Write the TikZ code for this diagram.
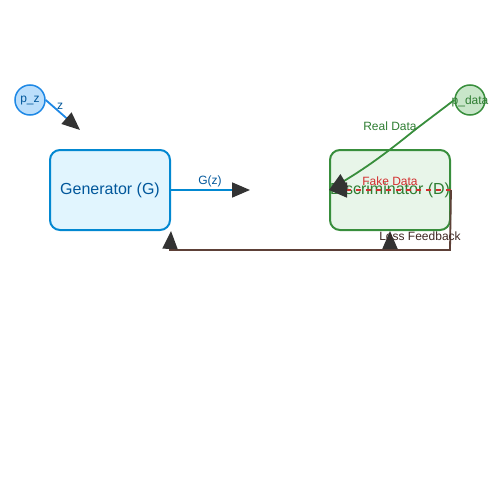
\documentclass[tikz,border=0pt]{standalone}
\usepackage{fontspec}
\setmainfont{Liberation Sans}
\usetikzlibrary{arrows.meta}
\definecolor{gblue}{HTML}{0288D1}
\definecolor{gfill}{HTML}{E1F5FE}
\definecolor{gtext}{HTML}{01579B}
\definecolor{zblue}{HTML}{1E88E5}
\definecolor{zfill}{HTML}{BBDEFB}
\definecolor{dgreen}{HTML}{388E3C}
\definecolor{dfill}{HTML}{E8F5E9}
\definecolor{dtext}{HTML}{2E7D32}
\definecolor{rfill}{HTML}{C8E6C9}
\definecolor{fakered}{HTML}{D32F2F}
\definecolor{lossbrown}{HTML}{5D4037}
\definecolor{losstext}{HTML}{3E2723}
\definecolor{tipgray}{HTML}{333333}
\newcommand{\boxtext}[1]{\makebox[0pt][c]{#1}}
\tikzset{
	bigtip/.style={-{Triangle[length=18pt,width=15pt,color=tipgray]}},
	block/.style={rounded corners=10pt, line width=2pt, minimum width=120pt, minimum height=80pt, inner sep=0pt, font=\fontsize{16}{18}\selectfont},
	source/.style={circle, line width=1.5pt, minimum size=30pt, inner sep=0pt},
	lbl/.style={font=\fontsize{12}{14}\selectfont, inner sep=1pt}
}
\begin{document}
\begin{tikzpicture}[x=1pt, y=-1pt]
			%%%%% START %%%%%
			\useasboundingbox (0, 0) rectangle (500, 500);
			
			\node[block, draw=gblue, fill=gfill, text=gtext] (gen) at (110, 190) {\boxtext{Generator (G)}};
			\node[block, draw=dgreen, fill=dfill, text=dtext] (disc) at (390, 190) {\boxtext{Discriminator (D)}};
			
			\node[source, draw=zblue, fill=zfill] (pz) at (30, 100) {};
			\node[lbl, text=gtext] (pztext) at (30, 101) {p\_z};
			\node[source, draw=dgreen, fill=rfill] (pdata) at (470, 100) {};
			\node[lbl, text=dtext] (pdatatext) at (470, 101) {p\_data};
			
			\coordinate (zend) at (80, 130);
			\coordinate (gzend) at (250, 190);
			\coordinate (bend) at (416, 129);
			\coordinate (lossright) at (450, 250);
			\coordinate (lossleft) at (170, 250);
			\coordinate (lossmid) at (390, 250);
			
			% noise into generator
			\draw[bigtip, line width=1.8pt, color=zblue] (pz.east) -- (zend);
			\node[lbl, text=gtext] at (60, 106) {z};
			
			% generator output
			\draw[bigtip, line width=1.8pt, color=gblue] (gen.east) -- (gzend);
			\node[lbl, text=gtext] at (210, 181) {G(z)};
			
			% real samples
			\draw[bigtip, line width=1.8pt, color=dgreen] (pdata.west) -- (bend) to[bend left=4] (disc.west);
			\node[lbl, text=dtext] at (390, 126) {Real Data};
			
			% fake samples
			\draw[bigtip, line width=1.8pt, color=fakered, dash pattern=on 5pt off 5pt] (disc.east) -- (disc.west);
			\node[lbl, text=fakered] at (390, 181) {Fake Data};
			
			% loss feedback
			\draw[bigtip, line width=1.8pt, color=lossbrown] (disc.east) -- (lossright) -- (lossleft) -- (gen.south east);
			\draw[bigtip, line width=1.8pt, color=lossbrown] (lossmid) -- (disc.south);
			\node[lbl, text=losstext] at (420, 236) {Loss Feedback};
			
			%%%%% END %%%%%
		\end{tikzpicture}
\end{document}
